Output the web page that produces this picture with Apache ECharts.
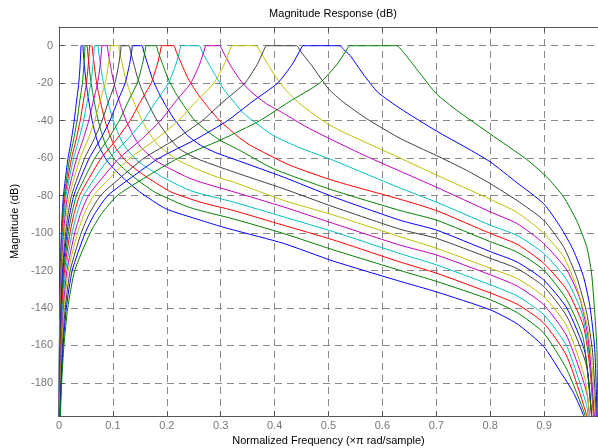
<!DOCTYPE html>
<html><head><meta charset="utf-8">
<script src="https://cdn.jsdelivr.net/npm/echarts@6/dist/echarts.min.js"></script>
<style>html,body{margin:0;padding:0;background:#fff}#c{width:598px;height:448px}</style>
</head><body><div id="c"></div>
<script>
// Each band: [normalized frequency (x pi rad/sample), magnitude dB]
const band01 = [[0.00016,-200],[0.00037,-180],[0.0007,-160],[0.0012,-140],[0.0022,-120],[0.0044,-100],[0.0059,-90],[0.0082,-80],[0.0123,-70],[0.0168,-60],[0.0230,-50],[0.0283,-40],[0.0324,-30],[0.0367,-20],[0.0392,-10],[0.0404,-3],[0.041,0],
  [0.044,0],[0.0449,-3],[0.0464,-8],[0.0493,-17],[0.0528,-25],[0.0572,-33],[0.0616,-40],[0.0682,-48],[0.0748,-54],[0.088,-61],[0.1012,-65.5],[0.1188,-70.5],[0.1496,-78],[0.198,-87],[0.262,-93.1],[0.3,-96.5],[0.324,-98.4],[0.416,-105.5],[0.509,-115],[0.633,-125.8],[0.7,-131.4],[0.8,-141],[0.85,-148.5],[0.899,-160.5],[0.93,-174],[0.954,-185],[0.973,-197.5],[0.98,-210]];
const band02 = [[0.0002,-200],[0.00044,-180],[0.0008,-160],[0.0015,-140],[0.0026,-120],[0.0052,-100],[0.0070,-90],[0.0097,-80],[0.0146,-70],[0.0199,-60],[0.0272,-50],[0.0335,-40],[0.0383,-30],[0.0434,-20],[0.0463,-10],[0.0478,-3],[0.0485,0],
  [0.052,0],[0.0530,-3],[0.0549,-8],[0.0582,-17],[0.0624,-25],[0.0676,-33],[0.0728,-40],[0.0806,-48],[0.0884,-54],[0.104,-61],[0.1196,-65.5],[0.1404,-70.5],[0.1768,-78],[0.234,-85.5],[0.262,-88],[0.324,-92.5],[0.416,-100.2],[0.509,-109],[0.633,-120],[0.7,-125.8],[0.8,-135.6],[0.85,-142.5],[0.899,-153.3],[0.942,-172.8],[0.976,-197.5],[0.983,-210]];
const band03 = [[0.00023,-200],[0.0005,-180],[0.001,-160],[0.0017,-140],[0.0031,-120],[0.0061,-100],[0.0083,-90],[0.0114,-80],[0.0171,-70],[0.0234,-60],[0.0319,-50],[0.0393,-40],[0.0450,-30],[0.0510,-20],[0.0544,-10],[0.0561,-3],[0.057,0],
  [0.061,0],[0.0622,-3],[0.0644,-8],[0.0683,-17],[0.0732,-25],[0.0793,-33],[0.0854,-40],[0.0946,-48],[0.1037,-54],[0.122,-61],[0.1403,-65.5],[0.1647,-70.5],[0.2074,-78],[0.262,-83.5],[0.324,-88],[0.416,-95.8],[0.509,-103.7],[0.633,-115.5],[0.7,-121.4],[0.8,-132],[0.85,-138],[0.899,-148],[0.942,-165.7],[0.979,-197.5],[0.986,-210]];
const band04 = [[0.00026,-200],[0.0006,-180],[0.0011,-160],[0.002,-140],[0.0036,-120],[0.0071,-100],[0.0096,-90],[0.0132,-80],[0.0198,-70],[0.0271,-60],[0.0370,-50],[0.0455,-40],[0.0521,-30],[0.0591,-20],[0.0630,-10],[0.0650,-3],[0.066,0],
  [0.072,0],[0.0734,-3],[0.076,-8],[0.0806,-17],[0.0864,-25],[0.0936,-33],[0.1008,-40],[0.1116,-48],[0.1224,-54],[0.144,-61],[0.1656,-65.5],[0.1944,-70.5],[0.245,-77.5],[0.324,-83.5],[0.416,-91.3],[0.509,-99.3],[0.633,-111],[0.7,-117],[0.8,-127.6],[0.85,-133.6],[0.899,-143.5],[0.942,-160.4],[0.979,-192.2],[0.984,-205]];
const band05 = [[0.00032,-200],[0.0007,-180],[0.0014,-160],[0.0024,-140],[0.0043,-120],[0.0086,-100],[0.0116,-90],[0.016,-80],[0.024,-70],[0.0328,-60],[0.0448,-50],[0.0552,-40],[0.0632,-30],[0.0716,-20],[0.0764,-10],[0.0788,-3],[0.08,0],
  [0.089,0],[0.0908,-3],[0.0939,-8],[0.0997,-17],[0.1068,-25],[0.1157,-33],[0.1246,-40],[0.138,-48],[0.1513,-54],[0.178,-61],[0.2047,-65.5],[0.2403,-70.5],[0.262,-72.8],[0.324,-78],[0.416,-86],[0.509,-94.9],[0.633,-106.5],[0.7,-111.7],[0.8,-122.3],[0.85,-128.3],[0.899,-138.2],[0.942,-155],[0.979,-185.1],[0.986,-205]];
const band06 = [[0.00038,-200],[0.0009,-180],[0.0016,-160],[0.0029,-140],[0.0052,-120],[0.0103,-100],[0.0139,-90],[0.0192,-80],[0.0288,-70],[0.0394,-60],[0.0538,-50],[0.0662,-40],[0.0758,-30],[0.0859,-20],[0.0917,-10],[0.0946,-3],[0.096,0],
  [0.110,0],[0.1122,-3],[0.1161,-8],[0.1232,-17],[0.132,-25],[0.143,-33],[0.154,-40],[0.1705,-48],[0.187,-54],[0.22,-61],[0.253,-65.5],[0.297,-70.5],[0.324,-72.8],[0.416,-82.5],[0.509,-90.4],[0.633,-102],[0.7,-108.1],[0.8,-118.8],[0.85,-124.3],[0.899,-133.8],[0.942,-149.7],[0.976,-178.1],[0.987,-205]];
const band07 = [[0.00046,-200],[0.001,-180],[0.002,-160],[0.0035,-140],[0.0063,-120],[0.0124,-100],[0.0168,-90],[0.0232,-80],[0.0348,-70],[0.0476,-60],[0.065,-50],[0.08,-40],[0.0916,-30],[0.1038,-20],[0.1108,-10],[0.1143,-3],[0.116,0],
  [0.130,0],[0.1326,-3],[0.1372,-8],[0.1456,-17],[0.156,-25],[0.169,-33],[0.182,-40],[0.2015,-48],[0.221,-54.5],[0.24,-58],[0.262,-61],[0.324,-67.4],[0.416,-76.3],[0.509,-86],[0.633,-98],[0.7,-102.8],[0.8,-113.5],[0.85,-119],[0.899,-128.5],[0.942,-144.4],[0.979,-171],[0.99,-205]];
const band08 = [[0.00055,-200],[0.0012,-180],[0.0023,-160],[0.0041,-140],[0.0074,-120],[0.0147,-100],[0.0199,-90],[0.0274,-80],[0.0411,-70],[0.0562,-60],[0.0767,-50],[0.0945,-40],[0.1082,-30],[0.1226,-20],[0.1308,-10],[0.1349,-3],[0.137,0],
  [0.154,0],[0.1571,-3],[0.1625,-8],[0.1725,-17],[0.1848,-25],[0.2002,-33],[0.2156,-40],[0.2387,-48],[0.262,-53],[0.29,-57],[0.324,-60.5],[0.416,-70.1],[0.509,-80.7],[0.633,-93.2],[0.7,-98.4],[0.8,-109.9],[0.85,-115.5],[0.899,-125],[0.942,-140],[0.976,-163.9],[0.99,-205]];
const band09 = [[0.00065,-200],[0.0015,-180],[0.0028,-160],[0.0049,-140],[0.0087,-120],[0.0173,-100],[0.0235,-90],[0.0324,-80],[0.0486,-70],[0.0664,-60],[0.0907,-50],[0.1118,-40],[0.128,-30],[0.145,-20],[0.1547,-10],[0.1596,-3],[0.162,0],
  [0.180,0],[0.1836,-3],[0.1899,-8],[0.2016,-17],[0.216,-25],[0.234,-33],[0.252,-40],[0.262,-42.5],[0.279,-46.5],[0.299,-50.5],[0.333,-55.5],[0.398,-65.7],[0.509,-77.2],[0.633,-88],[0.7,-93.1],[0.8,-104.6],[0.85,-110.2],[0.899,-119.7],[0.942,-135.6],[0.973,-156.8],[0.99,-205]];
const band10 = [[0.00076,-200],[0.0017,-180],[0.0032,-160],[0.0057,-140],[0.0103,-120],[0.0204,-100],[0.0277,-90],[0.0382,-80],[0.0573,-70],[0.0783,-60],[0.107,-50],[0.1318,-40],[0.1509,-30],[0.1709,-20],[0.1824,-10],[0.1881,-3],[0.191,0],
  [0.213,0],[0.2173,-3],[0.2247,-8],[0.2386,-17],[0.2556,-25],[0.2769,-33],[0.2982,-40],[0.33,-48],[0.354,-53],[0.426,-63.5],[0.509,-72],[0.633,-82],[0.7,-88],[0.8,-100.2],[0.85,-106],[0.899,-116.1],[0.942,-130.3],[0.973,-149.7],[0.985,-172],[0.993,-205]];
const band11 = [[0.0009,-200],[0.002,-180],[0.0039,-160],[0.0068,-140],[0.0123,-120],[0.0243,-100],[0.0329,-90],[0.0454,-80],[0.0681,-70],[0.0931,-60],[0.1271,-50],[0.1566,-40],[0.1793,-30],[0.2032,-20],[0.2168,-10],[0.2236,-3],[0.227,0],
  [0.260,0],[0.2652,-3],[0.274,-7.8],[0.292,-16.7],[0.305,-23],[0.323,-29.5],[0.342,-36],[0.362,-40.5],[0.398,-48],[0.447,-54.5],[0.509,-61.2],[0.57,-68.5],[0.633,-76],[0.7,-83.5],[0.8,-95.8],[0.85,-101.3],[0.899,-110.8],[0.942,-125],[0.970,-142.7],[0.985,-167.4],[0.994,-205]];
const band12 = [[0.0011,-200],[0.0025,-180],[0.0046,-160],[0.0082,-140],[0.0147,-120],[0.0292,-100],[0.0396,-90],[0.0546,-80],[0.0819,-70],[0.1119,-60],[0.1529,-50],[0.1884,-40],[0.2157,-30],[0.2443,-20],[0.2607,-10],[0.2689,-3],[0.273,0],
  [0.298,0],[0.304,-3],[0.317,-10],[0.338,-19],[0.358,-25],[0.385,-31],[0.416,-36],[0.46,-43.5],[0.509,-50.6],[0.57,-59],[0.633,-67],[0.7,-75.5],[0.8,-88.7],[0.85,-95],[0.899,-105.5],[0.942,-119.7],[0.967,-135.6],[0.982,-156.8],[0.995,-205]];
const band13 = [[0.0013,-200],[0.0029,-180],[0.0055,-160],[0.0096,-140],[0.0173,-120],[0.0343,-100],[0.0465,-90],[0.0642,-80],[0.0963,-70],[0.1316,-60],[0.1798,-50],[0.2215,-40],[0.2536,-30],[0.2873,-20],[0.3066,-10],[0.3162,-3],[0.321,0],
  [0.366,0],[0.373,-3],[0.385,-8.7],[0.403,-17],[0.422,-24],[0.447,-31],[0.497,-41.5],[0.534,-47],[0.633,-60],[0.7,-69],[0.8,-82],[0.85,-89],[0.899,-100],[0.936,-112.6],[0.96,-128.5],[0.979,-148],[0.988,-167.4],[0.997,-205]];
const band14 = [[0.0015,-200],[0.0035,-180],[0.0065,-160],[0.0116,-140],[0.0208,-120],[0.0412,-100],[0.0558,-90],[0.077,-80],[0.1155,-70],[0.1579,-60],[0.2156,-50],[0.2657,-40],[0.3042,-30],[0.3446,-20],[0.3677,-10],[0.3792,-3],[0.385,0],
  [0.441,0],[0.447,-2.5],[0.471,-11.4],[0.5,-23],[0.527,-30],[0.571,-39],[0.633,-49.5],[0.7,-58.6],[0.756,-66.5],[0.8,-73.6],[0.849,-82.5],[0.899,-93.1],[0.936,-107.3],[0.96,-123.2],[0.979,-142.7],[0.99,-163.9],[0.998,-205]];
const band15 = [[0.0018,-200],[0.0041,-180],[0.0077,-160],[0.0136,-140],[0.0245,-120],[0.0485,-100],[0.0657,-90],[0.0906,-80],[0.1359,-70],[0.1857,-60],[0.2537,-50],[0.3126,-40],[0.3579,-30],[0.4054,-20],[0.4326,-10],[0.4462,-3],[0.453,0],
  [0.521,0],[0.528,-2],[0.54,-5.2],[0.564,-15],[0.592,-25],[0.633,-33.5],[0.7,-45.5],[0.756,-54.5],[0.8,-62],[0.849,-73],[0.899,-84.3],[0.93,-96.6],[0.954,-109],[0.973,-123.2],[0.985,-139.1],[0.994,-162.1],[0.999,-205]];
const band16 = [[0.0022,-200],[0.0049,-180],[0.0092,-160],[0.0162,-140],[0.0292,-120],[0.0578,-100],[0.0783,-90],[0.108,-80],[0.162,-70],[0.2214,-60],[0.3024,-50],[0.3726,-40],[0.4266,-30],[0.4833,-20],[0.5157,-10],[0.5319,-3],[0.540,0],
  [0.627,0],[0.636,-2.5],[0.651,-7.8],[0.675,-16.7],[0.70,-25.6],[0.738,-34.5],[0.8,-47.1],[0.868,-60.8],[0.905,-70.1],[0.936,-80.7],[0.96,-93.1],[0.979,-107.3],[0.988,-121.4],[0.994,-142.7],[0.998,-162.1],[1.0,-205]];

const bands = [band01,band02,band03,band04,band05,band06,band07,band08,band09,band10,band11,band12,band13,band14,band15,band16];
const bandColors = ['#0000FF','#008000','#FF0000','#00BFBF','#BF00BF','#BFBF00','#404040',
                    '#0000FF','#008000','#FF0000','#00BFBF','#BF00BF','#BFBF00','#404040',
                    '#0000FF','#008000'];
const xTickLabels = ['0','0.1','0.2','0.3','0.4','0.5','0.6','0.7','0.8','0.9'];
const yTickValues = [0,-20,-40,-60,-80,-100,-120,-140,-160,-180];

const FONT = 'Liberation Sans, Arial, sans-serif';
const axisGray = '#555';
const gridDash = {color:'#888', width:1, type:[7,5]};

const chart = echarts.init(document.getElementById('c'), null, {renderer:'canvas'});
chart.setOption({
  animation:false,
  backgroundColor:'#fff',
  title:{text:'Magnitude Response (dB)', left:328, top:3, textAlign:'center',
    textStyle:{fontFamily:FONT, fontSize:11, fontWeight:'normal', color:'#000'}},
  grid:{left:59, right:0, top:27, bottom:32, containLabel:false, outerBoundsMode:'none'},
  xAxis:[{
    type:'value', min:0, max:1, interval:0.1,
    name:'Normalized Frequency (\u00d7\u03c0 rad/sample)', nameLocation:'middle', nameGap:17,
    nameTextStyle:{fontFamily:FONT, fontSize:11, color:'#000'},
    axisLine:{show:true, onZero:false, lineStyle:{color:axisGray, width:1}},
    axisTick:{show:true, inside:true, length:5, lineStyle:{color:axisGray}},
    axisLabel:{fontFamily:FONT, fontSize:11, color:'#777', margin:4, showMaxLabel:false,
      formatter:function(v){ const i=Math.round(v*10); return xTickLabels[i] !== undefined ? xTickLabels[i] : ''; }},
    splitLine:{show:true, lineStyle:gridDash}
  },{
    type:'value', min:0, max:1, interval:0.1, position:'top',
    axisLine:{show:true, onZero:false, lineStyle:{color:axisGray, width:1}},
    axisTick:{show:true, inside:true, length:5, lineStyle:{color:axisGray}},
    axisLabel:{show:false}, splitLine:{show:false}
  }],
  yAxis:[{
    type:'value', min:-197.7, max:10,
    name:'Magnitude (dB)', nameLocation:'middle', nameGap:31,
    nameTextStyle:{fontFamily:FONT, fontSize:11, color:'#000'},
    axisLine:{show:true, onZero:false, lineStyle:{color:axisGray, width:1}},
    axisTick:{show:true, inside:true, length:5, lineStyle:{color:axisGray}, customValues:yTickValues},
    axisLabel:{fontFamily:FONT, fontSize:11, color:'#777', margin:6, customValues:yTickValues},
    splitLine:{show:true, lineStyle:gridDash}
  }],
  series: bands.map(function(b, i){ return {
    type:'line', data:b, showSymbol:false, symbol:'none', smooth:0.2,
    lineStyle:{color:bandColors[i], width:1}, itemStyle:{color:bandColors[i]},
    clip:true, silent:true, z:2+i
  }; })
});
</script>
</body></html>
